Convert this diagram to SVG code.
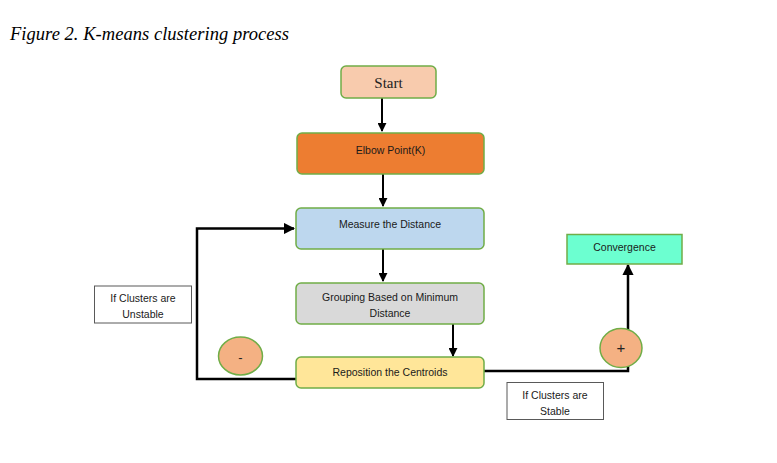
<svg xmlns="http://www.w3.org/2000/svg" width="777" height="463" viewBox="0 0 777 463">
<style>
.box{stroke:#70AD47;stroke-width:1.5}
.lbl{font-family:"Liberation Sans",Arial,sans-serif;font-size:10.5px;fill:#1a1a1a;text-anchor:middle}
.note{fill:#fff;stroke:#595959;stroke-width:1}
.ln{fill:none;stroke:#000;stroke-width:2.5}
.ar{fill:none;stroke:#000;stroke-width:2}
</style>
<defs>
<marker id="ah" viewBox="0 0 10 10" refX="9" refY="5" markerWidth="4.5" markerHeight="4.5" orient="auto" markerUnits="strokeWidth">
<path d="M0,0 L10,5 L0,10 z" fill="#000"/>
</marker>
</defs>
<rect width="777" height="463" fill="#fff"/>
<text x="10" y="40" font-family="'Liberation Serif','Times New Roman',serif" font-style="italic" font-size="18.5" textLength="279" fill="#000">Figure 2. K-means clustering process</text>

<g id="connectors">
<line class="ar" x1="382" y1="98" x2="382" y2="131" marker-end="url(#ah)"/>
<line class="ar" x1="383" y1="174" x2="383" y2="206" marker-end="url(#ah)"/>
<line class="ar" x1="383" y1="249" x2="383" y2="281" marker-end="url(#ah)"/>
<line class="ar" x1="453" y1="324" x2="453" y2="356" marker-end="url(#ah)"/>
<polyline class="ln" points="296,379 197,379 197,228.5 294,228.5" marker-end="url(#ah)"/>
<polyline class="ln" points="484,371 628,371 628,265" marker-end="url(#ah)"/>
</g>

<g id="start">
<rect class="box" x="341" y="66" width="95" height="32" rx="5" fill="#F8CBAD"/>
<text x="388.5" y="87.5" font-family="'Liberation Serif','Times New Roman',serif" font-size="15" fill="#222" text-anchor="middle">Start</text>
</g>
<g id="elbow">
<rect class="box" x="297" y="133" width="187" height="41" rx="5" fill="#ED7D31"/>
<text class="lbl" x="390.5" y="154">Elbow Point(K)</text>
</g>
<g id="measure">
<rect class="box" x="296" y="208" width="188" height="41" rx="5" fill="#BDD7EE"/>
<text class="lbl" x="390" y="228">Measure the Distance</text>
</g>
<g id="grouping">
<rect class="box" x="296" y="283" width="188" height="41" rx="5" fill="#D9D9D9"/>
<text class="lbl" x="390" y="301">Grouping Based on Minimum</text>
<text class="lbl" x="390" y="317">Distance</text>
</g>
<g id="reposition">
<rect class="box" x="296" y="357" width="188" height="31" rx="5" fill="#FFE699"/>
<text class="lbl" x="390" y="375.5">Reposition the Centroids</text>
</g>
<g id="convergence">
<rect class="box" x="567" y="234.5" width="115" height="29.5" fill="#6CFFD0"/>
<text class="lbl" x="624.5" y="251">Convergence</text>
</g>
<g id="unstable">
<rect class="note" x="94.5" y="286" width="97" height="37"/>
<text class="lbl" x="143" y="301.5">If Clusters are</text>
<text class="lbl" x="143" y="317.5">Unstable</text>
</g>
<g id="stable">
<rect class="note" x="507" y="382.5" width="96.5" height="37"/>
<text class="lbl" x="555" y="399">If Clusters are</text>
<text class="lbl" x="555" y="414.5">Stable</text>
</g>
<g id="minus">
<ellipse class="box" cx="240.5" cy="356" rx="22" ry="19" fill="#F4B183"/>
<text x="240.5" y="362" font-family="'Liberation Sans',Arial,sans-serif" font-size="13" fill="#222" text-anchor="middle">-</text>
</g>
<g id="plus">
<ellipse class="box" cx="621" cy="348" rx="21" ry="19.5" fill="#F4B183"/>
<text x="621" y="353" font-family="'Liberation Sans',Arial,sans-serif" font-size="15" fill="#222" text-anchor="middle">+</text>
</g>
</svg>
